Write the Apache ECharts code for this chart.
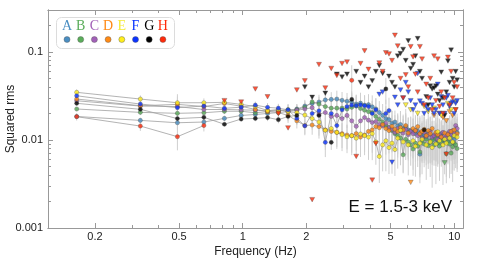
<!DOCTYPE html>
<html><head><meta charset="utf-8">
<script src="https://cdn.jsdelivr.net/npm/echarts@6/dist/echarts.min.js"></script>
<style>html,body{margin:0;padding:0;background:#fff}#c{width:479px;height:259px}</style>
</head><body><div id="c"></div><script>
// Frequencies (Hz)
const freq = [0.164,0.328,0.491,0.655,0.819,0.983,1.147,1.310,1.474,1.638,
1.802,1.966,2.129,2.293,2.457,2.621,2.785,2.948,3.112,3.276,
3.440,3.604,3.767,3.931,4.095,4.259,4.423,4.586,4.750,4.914,
5.078,5.242,5.405,5.569,5.733,5.897,6.061,6.224,6.388,6.552,
6.716,6.880,7.043,7.207,7.371,7.535,7.699,7.862,8.026,8.190,
8.354,8.518,8.681,8.845,9.009,9.173,9.337,9.500,9.664,9.828,
9.992,10.156,10.319];
// Squared rms per segment ('<x' = upper limit)
const A = [0.0185,0.0167,0.0157,0.0160,0.0176,0.0190,0.0195,0.0200,0.0205,0.0210,
0.0225,0.0243,0.0260,0.0270,0.0285,0.0289,0.0292,0.0282,0.0275,0.0270,
0.0256,0.0262,0.0249,0.0252,0.0238,0.0225,0.0205,0.0190,0.0175,0.0170,
0.0155,0.0160,0.0145,0.0150,0.0135,0.0142,0.0130,0.0128,0.0124,0.0118,
0.0125,0.0069,0.0110,0.0115,0.0105,0.0120,0.0098,0.0112,0.0102,0.0108,
0.0095,0.0110,0.0118,0.0102,0.0095,0.0112,0.0105,0.0098,0.0115,0.0108,
0.0102,0.0112,0.0122];
const B = [0.0225,0.0206,0.0201,0.0204,0.0212,0.0212,0.0204,0.0210,0.0215,0.0222,
0.0222,0.0235,0.0271,0.0256,0.0240,0.0230,0.0230,0.0230,0.0225,0.0235,
0.0243,0.0228,0.0218,0.0210,0.0205,0.0185,0.0172,0.0160,0.0145,0.0138,
0.0128,0.0118,0.0112,0.0105,0.0068,0.0102,0.0095,0.0088,0.0079,0.0092,
0.0085,0.0073,0.0098,0.0090,0.0102,0.0086,0.0094,0.0099,0.0088,0.0105,
0.0092,0.0085,0.0096,0.0101,'<0.0055',0.0070,0.0095,0.0090,0.0071,0.0084,
0.0092,0.0088,0.0080];
const C = [0.0279,0.0243,0.0240,0.0222,0.0222,0.0220,0.0218,0.0215,0.0220,0.0212,
0.0218,0.0225,0.0233,0.0197,0.0205,0.0185,0.0190,0.0175,0.0190,0.0165,
0.0143,0.0165,0.0180,0.0168,0.0158,0.0162,0.0150,0.0145,0.0155,0.0138,
0.0132,0.0122,0.0135,0.0128,0.0120,0.0132,0.0115,0.0125,0.0118,0.0128,
0.0112,0.0118,0.0105,0.0122,0.0110,0.0115,0.0125,0.0108,0.0112,0.0118,
0.0102,0.0115,0.0108,0.0122,0.0112,0.0105,0.0118,0.0125,0.0115,0.0128,
0.0120,0.0146,0.0135];
const D = [0.0292,0.0245,0.0254,0.0240,0.0260,0.0242,0.0222,0.0210,0.0205,0.0190,
0.0165,0.0146,0.0148,0.0142,0.0130,0.0125,0.0122,0.0118,0.0114,0.0112,
0.0118,0.0108,0.0114,0.0125,0.0130,0.0142,0.0138,0.0150,0.0135,0.0128,
0.0143,0.0132,0.0125,0.0138,0.0130,0.0146,0.0120,'<0.0033',0.0135,0.0128,
0.0142,0.0118,0.0125,0.0132,0.0112,0.0128,0.0118,0.0135,'<0.019',0.0122,
0.0115,'<0.020',0.0108,'<0.018',0.0120,'<0.0165',0.0115,'<0.021',0.0125,'<0.019',
0.0130,'<0.022',0.0118];
const E = [0.0348,0.0292,0.0265,0.0265,0.0268,0.0254,0.0240,0.0216,0.0220,0.0210,
0.0205,0.0192,0.0175,0.0160,0.0129,0.0135,0.0122,0.0115,0.0109,0.0112,
0.0105,0.0117,0.0112,0.0108,0.0118,0.0095,0.0065,0.0088,0.0098,0.0082,
0.0092,0.0078,0.0105,0.0129,0.0095,'<0.025',0.0088,'<0.022',0.0098,0.0085,
'<0.020',0.0092,0.0102,'<0.024',0.0088,'<0.021',0.0095,0.0082,'<0.023',0.0090,
0.0124,0.0098,'<0.019',0.0088,0.0102,0.0092,'<0.026',0.0105,'<0.022',0.0095,
0.0112,'<0.027',0.0108];
const F = [0.0318,0.0256,0.0233,0.0243,0.0229,0.0236,0.0249,0.0235,0.0230,0.0220,
0.0176,0.0145,0.0200,0.0215,0.0094,0.0200,0.0146,0.0220,0.0240,0.0249,
0.0245,0.0250,0.0245,0.0240,0.0200,0.0220,'<0.033','<0.035',0.0200,0.0216,
'<0.0056','<0.0306','<0.025','<0.037','<0.030','<0.045','<0.035','<0.028','<0.022','<0.025',
'<0.057','<0.0277','<0.026','<0.020','<0.024','<0.022','<0.030','<0.025','<0.020','<0.022',
'<0.043','<0.020','<0.031','<0.025','<0.020','<0.030','<0.032','<0.024','<0.026','<0.027',
'<0.020','<0.026','<0.028'];
const G = [0.0261,0.0223,0.0175,0.0181,0.0151,0.0173,0.0176,0.0180,0.0170,0.0185,
0.0190,'<0.040','<0.0306',0.0190,'<0.034',0.0094,'<0.056','<0.052','<0.056',0.0289,
'<0.060','<0.045','<0.053','<0.040','<0.047','<0.060','<0.070','<0.057',0.0380,'<0.053',
'<0.045','<0.040','<0.090','<0.096','<0.107','<0.080','<0.134','<0.065','<0.072','<0.090',
'<0.142','<0.060','<0.050',0.0130,'<0.031','<0.025','<0.041','<0.038','<0.039','<0.041',
'<0.033','<0.028','<0.059','<0.030','<0.019','<0.035','<0.079','<0.045','<0.105','<0.050',
'<0.040','<0.060','<0.048'];
const H = [0.0184,0.0144,0.0109,0.0146,'<0.028','<0.027','<0.038','<0.031','<0.020','<0.0137',
'<0.037','<0.047','<0.0021','<0.072','<0.039','<0.065','<0.054','<0.074','<0.077',0.0477,
'<0.0065','<0.074','<0.103','<0.0635','<0.0035','<0.0091','<0.075','<0.060','<0.098','<0.095',
'<0.080','<0.155','<0.117','<0.050','<0.030','<0.055','<0.040','<0.115','<0.088','<0.056',
'<0.035','<0.115','<0.083','<0.025','<0.043','<0.030','<0.050','<0.022','<0.090','<0.028',
'<0.083','<0.024','<0.035','<0.020','<0.030','<0.0069','<0.087','<0.025','<0.060','<0.030',
'<0.045','<0.022','<0.040'];
// relative error per frequency, and per-segment scale
const relErr = [0.08,0.10,0.25,0.12,0.10,0.10,0.12,0.15,0.15,0.20,
0.20,0.25,0.25,0.30,0.40,0.30,0.35,0.35,0.35,0.40,
0.40,0.45,0.40,0.45,0.50,0.45,0.50,0.50,0.55,0.50,
0.55,0.50,0.55,0.60,0.55,0.60,0.55,0.60,0.60,0.55,
0.60,0.65,0.60,0.65,0.60,0.65,0.60,0.65,0.60,0.65,
0.60,0.65,0.60,0.65,0.60,0.65,0.60,0.65,0.60,0.65,
0.60,0.65,0.60];
const errScale = {A:0.7,B:0.7,C:0.8,D:0.9,E:1.0,F:0.8,G:0.6,H:1.2};
const names = ['A','B','C','D','E','F','G','H'];
const colors = {A:'#4a8ec2',B:'#5aad5a',C:'#a260b8',D:'#ff8a14',E:'#ffee1a',F:'#0a33ff',G:'#000000',H:'#ff2a0a'};
const xMajor = [0.2,0.5,1,2,5,10];
const xMinor = [0.3,0.4,0.6,0.7,0.8,0.9,3,4,6,7,8,9];
const yMajor = [0.001,0.01,0.1];
const yMinor = [0.002,0.003,0.004,0.005,0.006,0.007,0.008,0.009,0.02,0.03,0.04,0.05,0.06,0.07,0.08,0.09,0.2];
const dataMap = {A,B,C,D,E,F,G,H};

const axisGray = '#999';
function xAx(pos, ticks, len, opts) {
  return Object.assign({
    type:'log', logBase:10, min:0.12, max:11, position:pos,
    axisLine:{show:true, lineStyle:{color:axisGray, width:1}},
    axisTick:{show:true, inside:true, length:len, customValues:ticks, lineStyle:{color:axisGray}},
    axisLabel:{show:false}, splitLine:{show:false}, minorTick:{show:false}
  }, opts||{});
}
function yAx(pos, ticks, len, opts) {
  return Object.assign({
    type:'log', logBase:10, min:0.001, max:0.3, position:pos,
    axisLine:{show:true, lineStyle:{color:axisGray, width:1}},
    axisTick:{show:true, inside:true, length:len, customValues:ticks, lineStyle:{color:axisGray}},
    axisLabel:{show:false}, splitLine:{show:false}, minorTick:{show:false}
  }, opts||{});
}
const xAxes = [
  xAx('bottom', xMajor, 5, {
    name:'Frequency (Hz)', nameLocation:'middle', nameGap:18, nameMoveOverlap:false,
    nameTextStyle:{fontSize:12, color:'#222', fontFamily:'Liberation Sans'},
    axisLabel:{show:true, customValues:xMajor, margin:3, fontSize:11, color:'#222', fontFamily:'Liberation Sans',
      formatter: v => String(+Number(v).toPrecision(3))}
  }),
  xAx('bottom', xMinor, 3),
  xAx('top', xMajor, 5),
  xAx('top', xMinor, 3)
];
const yAxes = [
  yAx('left', yMajor, 5, {
    name:'Squared rms', nameLocation:'middle', nameGap:31, nameMoveOverlap:false,
    nameTextStyle:{fontSize:12, color:'#222', fontFamily:'Liberation Sans'},
    axisLabel:{show:true, customValues:yMajor, margin:5, fontSize:11, color:'#222', fontFamily:'Liberation Sans',
      formatter: v => String(+Number(v).toPrecision(3))}
  }),
  yAx('left', yMinor, 3),
  yAx('right', yMajor, 5),
  yAx('right', yMinor, 3)
];

const series = [];
// error bars
names.forEach(n => {
  const err = [];
  dataMap[n].forEach((v,i) => {
    if (typeof v !== 'string') {
      const e = Math.min(0.85, relErr[i]*errScale[n]);
      err.push([freq[i], v*(1-e), v*(1+e)]);
    }
  });
  series.push({
    type:'custom', name:n+'err', xAxisIndex:0, yAxisIndex:0, z:1, silent:true,
    encode:{x:0, y:[1,2]},
    data: err,
    renderItem: (params, api) => {
      const p1 = api.coord([api.value(0), api.value(1)]);
      const p2 = api.coord([api.value(0), api.value(2)]);
      return {type:'line', shape:{x1:p1[0], y1:p1[1], x2:p2[0], y2:p2[1]},
        style:{stroke:'#cfcfcf', lineWidth:1}};
    }
  });
});
// connecting lines
names.forEach(n => {
  const ln = dataMap[n].map((v,i) => [freq[i], typeof v === 'string' ? null : v]);
  series.push({type:'line', xAxisIndex:0, yAxisIndex:0, z:2, data:ln, symbol:'none', silent:true,
    connectNulls:false, lineStyle:{color:'#a0a0a0', width:0.8}, animation:false});
});
// markers
names.forEach(n => {
  const det = [], ul = [];
  dataMap[n].forEach((v,i) => {
    if (typeof v === 'string') ul.push([freq[i], parseFloat(v.slice(1))]);
    else det.push([freq[i], v]);
  });
  series.push({type:'scatter', xAxisIndex:0, yAxisIndex:0, z:3, data:det, symbol:'circle', symbolSize:4.2,
    itemStyle:{color:colors[n], borderColor:'#444', borderWidth:0.4}, animation:false});
  series.push({type:'scatter', xAxisIndex:0, yAxisIndex:0, z:3, data:ul, symbol:'triangle', symbolRotate:180, symbolSize:[5,4.5],
    itemStyle:{color:colors[n], borderColor:'#444', borderWidth:0.4}, animation:false});
});

const legendChildren = [{type:'rect', shape:{x:0, y:0, width:118, height:31, r:5},
  style:{fill:'#fff', stroke:'#dcdcdc', lineWidth:1}}];
names.forEach((n,i) => {
  legendChildren.push({type:'text', x:10.5+i*13.7, y:9, style:{text:n, fill:colors[n] === '#ffee1a' ? '#f4ea3a' : colors[n],
    font:'14px "Liberation Serif"', align:'center', verticalAlign:'middle'}});
  legendChildren.push({type:'circle', shape:{cx:10.5+i*13.7, cy:22, r:3},
    style:{fill:colors[n], stroke:'#555', lineWidth:0.4}});
});

const chart = echarts.init(document.getElementById('c'), null, {renderer:'canvas'});
chart.setOption({
  animation:false,
  grid:{left:48, right:16, top:10, bottom:31, containLabel:false, outerBoundsMode:'none'},
  xAxis:xAxes, yAxis:yAxes, series,
  graphic:[
    {type:'group', left:56, top:17, z:100, children:legendChildren},
    {type:'text', right:27, top:199, z:100, style:{text:'E = 1.5-3 keV', font:'17px "Liberation Sans"', fill:'#111'}}
  ]
});
</script></body></html>
